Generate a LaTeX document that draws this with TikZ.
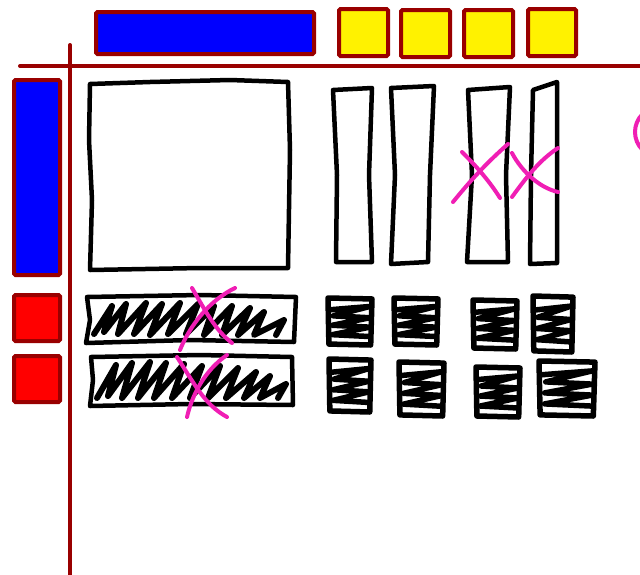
\documentclass[tikz,border=0pt]{standalone}
\definecolor{frame}{RGB}{153,0,0}
\definecolor{pinkx}{RGB}{240,30,180}
\begin{document}
\begin{tikzpicture}[x=1pt,y=-1pt,
  colbox/.style={draw=frame,line width=4,rounded corners=1.5},
  redline/.style={draw=frame,line width=4,line cap=round},
  ink/.style={draw=black,line width=4.5,line join=round,line cap=round},
  scrib/.style={draw=black,line width=6,line join=round,line cap=round},
  fat/.style={draw=black,line width=5.5,line join=round,line cap=round},
  pinkline/.style={draw=pinkx,line width=4,line cap=round},
  glyph/.pic={
    \draw[fat] (0,0) -- (1,0.02) -- (0.97,1) -- (0.02,0.98) -- cycle;
    \draw[fat] (0.05,0.25) -- (0.95,0.18) -- (0.12,0.38) -- (0.95,0.42) -- (0.1,0.58) -- (0.95,0.62) -- (0.1,0.78) -- (0.95,0.82);
  }]
\fill[white] (0,0) rectangle (640,574);
\useasboundingbox (0,0) rectangle (640,574);

% coloured boxes
\path[colbox,fill=blue] (96,12) rectangle (314,54);
\path[colbox,fill=yellow] (339,9) rectangle (388,56);
\path[colbox,fill=yellow] (401,10) rectangle (450,57);
\path[colbox,fill=yellow] (464,10) rectangle (513,57);
\path[colbox,fill=yellow] (528,9) rectangle (576,56);
\path[colbox,fill=blue] (14,80) rectangle (60,275);
\path[colbox,fill=red] (14,295) rectangle (60,341);
\path[colbox,fill=red] (14,356) rectangle (60,402);

% axes
\draw[redline] (20,66) -- (645,66);
\draw[redline] (70,45) -- (70,580);

% big square
\draw[ink] (90,84) -- (150,82) -- (230,80) -- (288,82) -- (290,150) -- (288,268) -- (200,268) -- (90,270) -- (92,200) -- (89,140) -- cycle;

% tall rectangles
\draw[ink] (333,90) -- (372,88) -- (369,175) -- (372,262) -- (336,262) -- (337,175) -- cycle;
\draw[ink] (391,88) -- (434,86) -- (430,175) -- (428,262) -- (391,264) -- (395,175) -- cycle;
\draw[ink] (468,90) -- (510,87) -- (506,175) -- (508,262) -- (467,262) -- (472,175) -- cycle;
\draw[ink] (533,90) -- (557,82) -- (557,263) -- (530,264) -- (531,175) -- cycle;

% pink crosses on tall rectangles
\draw[pinkline] (453,202) .. controls (475,175) and (490,160) .. (508,144);
\draw[pinkline] (462,152) .. controls (478,168) and (490,182) .. (500,198);
\draw[pinkline] (512,197) .. controls (528,175) and (540,160) .. (558,148);
\draw[pinkline] (512,153) .. controls (522,172) and (540,188) .. (558,192);
\draw[pinkline] (660,132) circle [radius=25];

% hatched bars
\draw[ink] (87,297) -- (200,295) -- (296,297) -- (294,342) -- (190,340) -- (86,343) -- (90,320) -- cycle;
\draw[scrib] (94,334) -- (112,306) -- (104,332) -- (126,304) -- (118,334) -- (146,303) -- (134,334) -- (162,304) -- (150,335) -- (180,303) -- (168,334) -- (198,304) -- (186,334) -- (214,306) -- (204,335) -- (232,306) -- (222,335) -- (250,308) -- (238,335) -- (264,312) -- (254,335) -- (284,320) -- (276,335);
\draw[ink] (91,357) -- (200,355) -- (292,357) -- (293,405) -- (190,404) -- (90,406) -- (93,380) -- cycle;
\draw[scrib] (97,398) -- (116,365) -- (108,396) -- (132,363) -- (122,398) -- (150,362) -- (138,398) -- (166,363) -- (154,398) -- (184,364) -- (172,398) -- (202,366) -- (190,398) -- (220,366) -- (208,398) -- (238,368) -- (226,398) -- (256,372) -- (244,398) -- (270,376) -- (260,398) -- (286,384) -- (278,398);

% pink crosses on bars
\draw[pinkline] (192,288) .. controls (205,310) and (215,330) .. (232,343);
\draw[pinkline] (235,288) .. controls (210,300) and (190,325) .. (180,350);
\draw[pinkline] (177,357) .. controls (195,385) and (205,405) .. (227,417);
\draw[pinkline] (227,355) .. controls (205,370) and (192,395) .. (187,417);

% small glyph boxes
\pic[xscale=44,yscale=47] at (328,298) {glyph};
\pic[xscale=44,yscale=47] at (394,298) {glyph};
\pic[xscale=44,yscale=49] at (473,300) {glyph};
\pic[xscale=40,yscale=56] at (533,296) {glyph};
\pic[xscale=42,yscale=53] at (329,359) {glyph};
\pic[xscale=45,yscale=54] at (399,362) {glyph};
\pic[xscale=44,yscale=50] at (476,367) {glyph};
\pic[xscale=56,yscale=55] at (539,361) {glyph};
\end{tikzpicture}
\end{document}
